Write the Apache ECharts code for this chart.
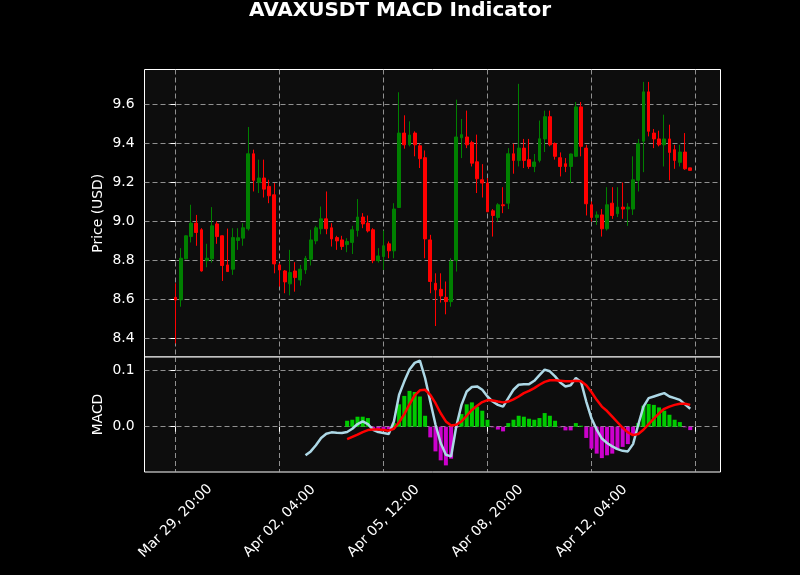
<!DOCTYPE html>
<html><head><meta charset="utf-8">
<script src="https://cdn.jsdelivr.net/npm/echarts@6/dist/echarts.min.js"></script>
<style>html,body{margin:0;padding:0;background:#000}#c{width:800px;height:575px}</style>
</head><body><div id="c"></div>
<script>
// 4h candles, index 0 = Mar 29, 20:00
const tickIndex = [0, 20, 40, 60, 80, 100];
const tickLabels = ['Mar 29, 20:00', 'Apr 02, 04:00', 'Apr 05, 12:00', 'Apr 08, 20:00', 'Apr 12, 04:00', ''];
const priceTicks = [8.4, 8.6, 8.8, 9.0, 9.2, 9.4, 9.6];
const macdTicks = [0.0, 0.1];

const opens = [8.610,8.597,8.807,8.921,8.990,8.956,8.798,8.807,8.986,8.925,
8.776,8.754,8.901,8.913,8.961,9.345,9.198,9.221,9.178,9.135,
8.776,8.745,8.679,8.745,8.699,8.750,8.805,8.899,8.961,9.012,
8.966,8.916,8.904,8.880,8.891,8.952,9.021,8.990,8.956,8.798,
8.819,8.884,8.848,9.070,9.451,9.391,9.451,9.386,9.325,8.904,
8.682,8.651,8.610,8.588,8.798,9.427,9.431,9.403,9.304,9.212,
9.195,9.053,9.019,9.084,9.092,9.345,9.311,9.374,9.315,9.280,
9.311,9.421,9.535,9.397,9.325,9.294,9.280,9.332,9.585,9.374,
9.084,9.019,9.032,8.961,9.092,9.038,9.072,9.062,9.062,9.209,
9.409,9.662,9.451,9.421,9.391,9.421,9.366,9.301,9.354,9.273];
const closes = [8.596,8.810,8.925,8.990,8.942,8.745,8.810,8.976,8.921,8.773,
8.742,8.916,8.915,8.966,9.345,9.209,9.221,9.164,9.130,8.781,
8.750,8.689,8.737,8.711,8.754,8.810,8.904,8.966,9.012,8.961,
8.909,8.899,8.870,8.896,8.956,9.021,8.986,8.950,8.798,8.822,
8.874,8.848,9.062,9.451,9.391,9.441,9.391,9.320,8.909,8.691,
8.648,8.617,8.588,8.793,9.431,9.443,9.391,9.297,9.217,9.195,
9.048,9.029,9.084,9.079,9.345,9.311,9.374,9.311,9.280,9.303,
9.422,9.535,9.391,9.332,9.280,9.280,9.344,9.585,9.383,9.089,
9.019,9.032,8.961,9.084,9.029,9.072,9.062,9.072,9.212,9.397,
9.662,9.460,9.421,9.391,9.421,9.352,9.311,9.354,9.268,9.260];
const lows = [8.374,8.562,8.805,8.891,8.874,8.742,8.764,8.788,8.884,8.694,
8.740,8.725,8.853,8.874,8.952,9.152,9.144,9.121,9.092,8.733,
8.665,8.631,8.620,8.639,8.670,8.730,8.773,8.882,8.933,8.933,
8.870,8.853,8.853,8.841,8.832,8.921,8.964,8.942,8.785,8.788,
8.750,8.810,8.810,9.068,9.371,9.383,9.332,9.272,8.810,8.631,
8.463,8.583,8.523,8.562,8.742,9.323,9.374,9.280,9.144,9.121,
9.046,8.921,8.998,9.041,9.062,9.243,9.280,9.272,9.268,9.251,
9.301,9.354,9.383,9.315,9.229,9.251,9.195,9.328,9.332,9.029,
8.998,8.981,8.921,8.952,9.012,9.021,9.012,8.976,9.032,9.152,
9.251,9.434,9.374,9.383,9.280,9.209,9.268,9.280,9.263,9.260];
const highs = [8.682,8.862,8.927,9.084,9.032,8.964,8.884,9.072,8.998,8.927,
8.962,8.964,8.964,8.990,9.482,9.366,9.315,9.315,9.212,9.195,
8.785,8.750,8.853,8.790,8.776,8.822,8.956,8.976,9.075,9.152,
8.990,8.925,8.925,8.913,8.976,9.113,9.041,9.029,8.964,8.862,
8.952,8.896,9.092,9.660,9.542,9.511,9.460,9.397,9.362,8.930,
8.733,8.733,8.691,8.810,9.622,9.523,9.566,9.412,9.443,9.292,
9.221,9.062,9.092,9.174,9.374,9.397,9.703,9.421,9.421,9.344,
9.515,9.566,9.566,9.403,9.352,9.323,9.346,9.610,9.610,9.391,
9.101,9.050,9.062,9.174,9.174,9.174,9.198,9.092,9.332,9.421,
9.713,9.713,9.472,9.463,9.545,9.494,9.391,9.391,9.451,9.273];

// MACD line starts at index 25, signal & histogram at index 33
const macdStart = 25;
const macdLine = [-0.051,-0.044,-0.033,-0.020,-0.0125,-0.010,-0.0107,-0.0113,-0.0095,-0.0036,
0.0048,0.0095,0.0048,-0.0054,-0.0095,-0.0113,-0.0131,0.0095,0.057,0.081,
0.102,0.114,0.118,0.087,0.045,0.004,-0.029,-0.050,-0.053,0.001,
0.039,0.063,0.071,0.072,0.066,0.054,0.045,0.039,0.036,0.051,
0.066,0.075,0.076,0.076,0.082,0.092,0.102,0.099,0.090,0.079,
0.072,0.074,0.087,0.080,0.045,0.015,-0.005,-0.021,-0.029,-0.035,
-0.040,-0.043,-0.044,-0.031,0.0036,0.036,0.051,0.054,0.057,0.060,
0.054,0.051,0.048,0.040,0.032];
const signalStart = 33;
const signalLine = [-0.022,-0.018,-0.014,-0.0095,-0.006,-0.005,-0.005,-0.006,-0.007,-0.0036,
0.008,0.0226,0.040,0.056,0.065,0.066,0.057,0.042,0.024,0.0095,
0.0024,0.0036,0.0095,0.0196,0.030,0.0375,0.044,0.0476,0.047,0.045,
0.0435,0.045,0.049,0.054,0.060,0.064,0.069,0.075,0.080,0.083,
0.083,0.082,0.081,0.081,0.082,0.081,0.074,0.062,0.048,0.036,
0.028,0.018,0.008,-0.002,-0.010,-0.015,-0.013,-0.0054,0.0048,0.0143,
0.024,0.032,0.036,0.039,0.041,0.041,0.039];
const histValues = [0.0107,0.0125,0.0179,0.0179,0.0155,-0.004,-0.004,-0.004,-0.004,0.0065,
0.040,0.055,0.064,0.062,0.054,0.0196,-0.019,-0.044,-0.060,-0.069,
-0.057,-0.002,0.0226,0.040,0.0435,0.036,0.0286,0.0125,-0.001,-0.005,
-0.0083,0.0065,0.0125,0.0196,0.0179,0.0143,0.0125,0.0155,0.0244,0.0196,
0.0107,-0.001,-0.0065,-0.0065,0.0065,0.0018,-0.020,-0.039,-0.048,-0.056,
-0.051,-0.048,-0.041,-0.036,-0.031,-0.014,0.0065,0.0375,0.0405,0.039,
0.0345,0.0286,0.0214,0.0125,0.0083,-0.001,-0.006];

const FONT = 'DejaVu Sans';
const candleData = opens.map((o, i) => [i, o, closes[i], lows[i], highs[i]]);
const macdData = macdLine.map((v, k) => [macdStart + k, v]);
const signalData = signalLine.map((v, k) => [signalStart + k, v]);
const histData = histValues.map((v, k) => [signalStart + k, v]);

const gridLine = { show: true, lineStyle: { color: '#a8a8a8', type: [5, 3], width: 1, opacity: 0.85 } };
const xMin = -5.97, xMax = 104.82;

const chart = echarts.init(document.getElementById('c'), null, { renderer: 'canvas' });
chart.setOption({
  animation: false,
  backgroundColor: '#000000',
  title: {
    text: 'AVAXUSDT MACD Indicator', left: 'center', top: 1, padding: 0,
    textStyle: { color: '#ffffff', fontFamily: FONT, fontSize: 20, fontWeight: 'bold' }
  },
  grid: [
    { left: 144.5, top: 69.5, width: 576, height: 287.5, show: true, backgroundColor: '#0d0d0d', borderColor: '#ffffff', borderWidth: 1 },
    { left: 144.5, top: 357, width: 576, height: 115, show: true, backgroundColor: '#0d0d0d', borderColor: '#ffffff', borderWidth: 1 }
  ],
  xAxis: [
    { type: 'value', gridIndex: 0, min: xMin, max: xMax,
      axisLine: { show: false }, axisLabel: { show: false },
      axisTick: { show: false, customValues: tickIndex },
      splitLine: gridLine },
    { type: 'value', gridIndex: 1, min: xMin, max: xMax,
      axisLine: { show: false },
      axisTick: { show: true, length: 5, customValues: tickIndex, lineStyle: { color: '#ffffff' } },
      axisLabel: { show: true, customValues: tickIndex.slice(0, 5), rotate: 45, align: 'center', verticalAlign: 'middle', margin: 49,
        color: '#ffffff', fontFamily: FONT, fontSize: 13.9,
        formatter: v => tickLabels[tickIndex.indexOf(Math.round(v))] || '' },
      splitLine: gridLine }
  ],
  yAxis: [
    { type: 'value', gridIndex: 0, min: 8.3045, max: 9.7765, position: 'left',
      name: 'Price (USD)', nameLocation: 'middle', nameGap: 39, nameRotate: 90, nameMoveOverlap: false,
      nameTextStyle: { color: '#ffffff', fontFamily: FONT, fontSize: 13.9 },
      axisLine: { show: false },
      axisTick: { show: true, length: 5, customValues: priceTicks, lineStyle: { color: '#ffffff' } },
      axisLabel: { customValues: priceTicks, color: '#ffffff', fontFamily: FONT, fontSize: 13.9, margin: 10, formatter: v => v.toFixed(1) },
      splitLine: gridLine },
    { type: 'value', gridIndex: 1, min: -0.0808, max: 0.1245, position: 'left',
      name: 'MACD', nameLocation: 'middle', nameGap: 39, nameRotate: 90, nameMoveOverlap: false,
      nameTextStyle: { color: '#ffffff', fontFamily: FONT, fontSize: 13.9 },
      axisLine: { show: false },
      axisTick: { show: true, length: 5, customValues: macdTicks, lineStyle: { color: '#ffffff' } },
      axisLabel: { customValues: macdTicks, color: '#ffffff', fontFamily: FONT, fontSize: 13.9, margin: 10, formatter: v => v.toFixed(1) },
      splitLine: gridLine }
  ],
  series: [
    { type: 'candlestick', xAxisIndex: 0, yAxisIndex: 0, data: candleData, barWidth: 3.2,
      itemStyle: { color: '#008000', color0: '#ff0000', borderColor: '#008000', borderColor0: '#ff0000', borderWidth: 1 } },
    { type: 'bar', xAxisIndex: 1, yAxisIndex: 1, data: histData, barWidth: 4, z: 1,
      itemStyle: { color: p => (p.value[1] >= 0 ? '#00cc00' : '#cc00cc') } },
    { type: 'line', xAxisIndex: 1, yAxisIndex: 1, data: macdData, showSymbol: false, z: 3,
      lineStyle: { color: '#add8e6', width: 2.5 } },
    { type: 'line', xAxisIndex: 1, yAxisIndex: 1, data: signalData, showSymbol: false, z: 4,
      lineStyle: { color: '#ff0000', width: 2.5 } }
  ]
});
</script>
</body></html>
